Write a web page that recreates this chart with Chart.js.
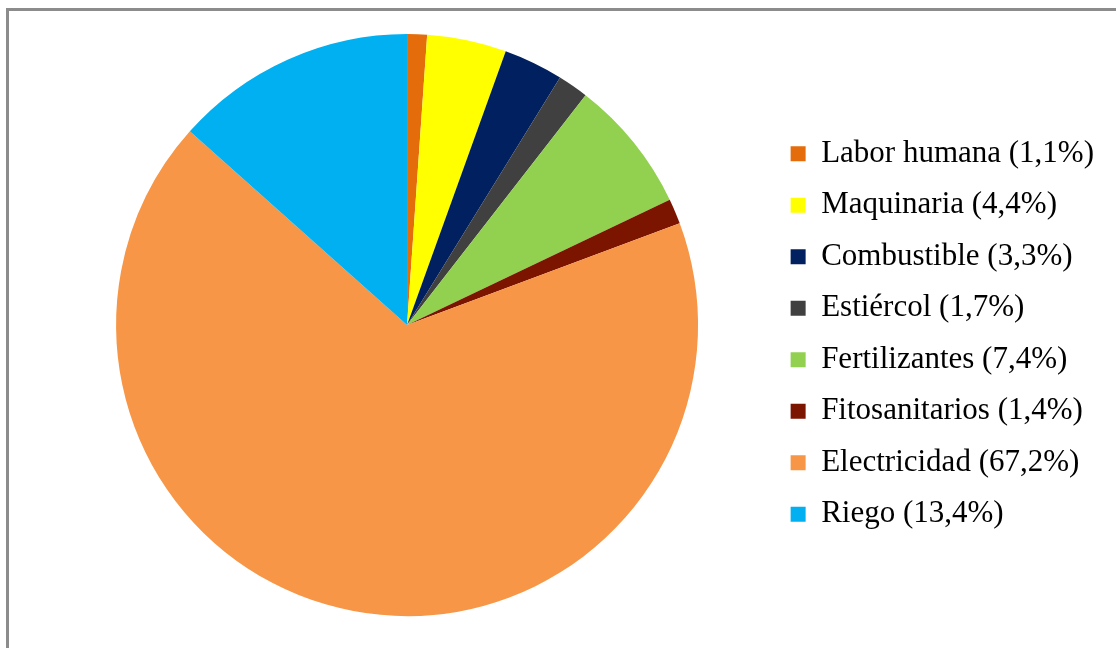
<!DOCTYPE html>
<html lang="es">
<head>
    <meta charset="UTF-8">
    <title>Consumo energético</title>
    <script src="https://cdn.jsdelivr.net/npm/chart.js"></script>
    <style>
        html, body { margin: 0; padding: 0; background: #fff; overflow: hidden; }
        #wrap { position: absolute; left: 0; top: 0; width: 1116px; height: 648px; }
        #frame { position: absolute; left: 6px; top: 8px; width: 1200px; height: 700px; border: 3px solid #8c8c8c; box-sizing: border-box; }
    </style>
</head>
<body>
<div id="wrap">
    <div id="frame"></div>
    <canvas id="pieChart" width="1116" height="648"></canvas>
</div>
<script>
    // Data
    const categories = ['Labor humana', 'Maquinaria', 'Combustible', 'Estiércol', 'Fertilizantes', 'Fitosanitarios', 'Electricidad', 'Riego'];
    const shares = [1.1, 4.4, 3.3, 1.7, 7.4, 1.4, 67.2, 13.4];
    const colors = ['#e46c0a', '#ffff00', '#002060', '#404040', '#92d050', '#7b1500', '#f79646', '#00b0f0'];

    // legend text like "Labor humana (1,1%)"
    const labels = categories.map((c, i) => c + ' (' + shares[i].toFixed(1).replace('.', ',') + '%)');

    const ctx = document.getElementById('pieChart').getContext('2d');
    new Chart(ctx, {
        type: 'pie',
        data: {
            labels: labels,
            datasets: [{
                data: shares,
                backgroundColor: colors,
                borderWidth: 0
            }]
        },
        options: {
            responsive: false,
            animation: false,
            layout: { padding: { left: 44, top: 34, bottom: 32, right: 12 } },
            plugins: {
                tooltip: { enabled: false },
                legend: {
                    position: 'right',
                    align: 'center',
                    // empty title just pushes the list down a little
                    title: { display: true, text: '', font: { size: 10 }, padding: { top: 6, bottom: 0 } },
                    labels: {
                        boxWidth: 15,
                        boxHeight: 15,
                        padding: 20.5,
                        color: '#000',
                        font: { family: '"Liberation Serif", "Times New Roman", serif', size: 31 }
                    }
                }
            }
        }
    });
</script>
</body>
</html>
